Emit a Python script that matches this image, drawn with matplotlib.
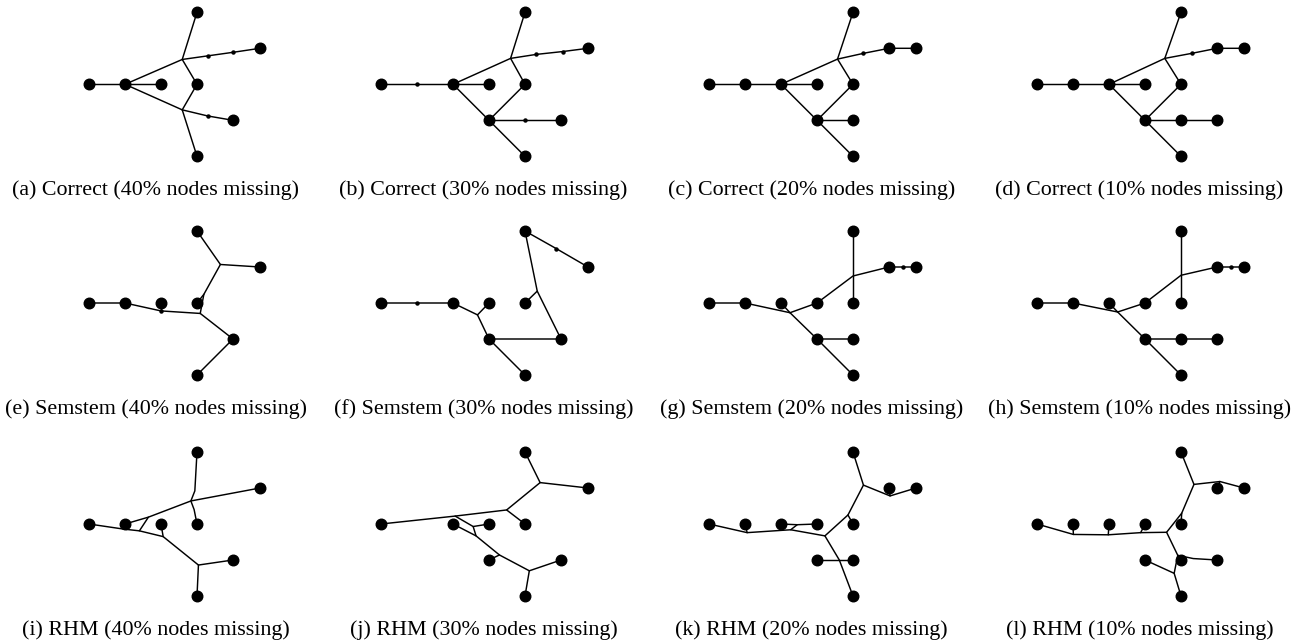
import matplotlib
matplotlib.use("Agg")
import matplotlib.pyplot as plt

# observed (big dot) nodes, grid units (col, row), shared by each column of panels
nodes_40 = [(1, 2), (2, 2), (3, 2), (4, 2), (4, 0), (5.75, 1), (5, 3), (4, 4)]
nodes_30 = [(0, 2), (2, 2), (3, 2), (4, 2), (4, 0), (5.75, 1), (3, 3), (5, 3), (4, 4)]
nodes_20 = [(0, 2), (1, 2), (2, 2), (3, 2), (4, 2), (4, 0), (5, 1), (5.75, 1), (3, 3), (4, 3), (4, 4)]
nodes_10 = [(0, 2), (1, 2), (2, 2), (3, 2), (4, 2), (4, 0), (5, 1), (5.75, 1), (3, 3), (4, 3), (5, 3), (4, 4)]

# edges as polylines
edges_a = [
    [(1, 2), (2, 2), (3, 2)],
    [(2, 2), (3.59, 1.31), (4, 0)],
    [(3.59, 1.31), (4.30, 1.21), (5.01, 1.11), (5.75, 1)],
    [(3.59, 1.31), (4, 2), (3.59, 2.71)],
    [(2, 2), (3.59, 2.71), (4, 4)],
    [(3.59, 2.71), (4.30, 2.88), (5, 3)],
]
ticks_a = [(4.30, 1.21), (5.01, 1.11), (4.30, 2.88)]

edges_b = [
    [(0, 2), (1, 2), (2, 2), (3, 2)],
    [(2, 2), (3.6, 1.28), (4, 0)],
    [(3.6, 1.28), (4.31, 1.17), (5.05, 1.09), (5.75, 1)],
    [(3.6, 1.28), (4, 2), (3, 3)],
    [(2, 2), (3, 3), (4, 4)],
    [(3, 3), (4, 3), (5, 3)],
]
ticks_b = [(1, 2), (4.31, 1.17), (5.05, 1.09), (4, 3)]

edges_c = [
    [(0, 2), (1, 2), (2, 2), (3, 2)],
    [(2, 2), (3.57, 1.3), (4, 0)],
    [(3.57, 1.3), (4.29, 1.14), (5, 1), (5.75, 1)],
    [(3.57, 1.3), (4, 2), (3, 3)],
    [(2, 2), (3, 3), (4, 4)],
    [(3, 3), (4, 3)],
]
ticks_c = [(4.29, 1.14)]

edges_d = [
    [(0, 2), (1, 2), (2, 2), (3, 2)],
    [(2, 2), (3.55, 1.28), (4, 0)],
    [(3.55, 1.28), (4.3, 1.14), (5, 1), (5.75, 1)],
    [(3.55, 1.28), (4, 2), (3, 3)],
    [(2, 2), (3, 3), (4, 4)],
    [(3, 3), (4, 3), (5, 3)],
]
ticks_d = [(4.3, 1.14)]

edges_e = [
    [(1, 2), (2, 2), (3, 2.22), (4.09, 2.29)],
    [(3, 2), (3, 2.22)],
    [(4.09, 2.29), (4.19, 1.76), (4.65, 0.93), (4, 0)],
    [(4, 2), (4.19, 1.76)],
    [(4.65, 0.93), (5.75, 1)],
    [(4.09, 2.29), (5, 3), (4, 4)],
]
ticks_e = [(3, 2.22)]

edges_f = [
    [(0, 2), (1, 2), (2, 2), (2.68, 2.33), (3, 2)],
    [(2.68, 2.33), (3, 3), (5, 3), (4.34, 1.67), (4, 0), (4.87, 0.49), (5.75, 1)],
    [(3, 3), (4, 4)],
    [(4.34, 1.67), (4, 2)],
]
ticks_f = [(1, 2), (4.87, 0.49)]

edges_g = [
    [(0, 2), (1, 2), (2.25, 2.27), (3, 2), (4, 1.25), (5, 1), (5.75, 1)],
    [(2.25, 2.27), (2, 2)],
    [(4, 0), (4, 2)],
    [(2.25, 2.27), (3, 3), (4, 3)],
    [(3, 3), (4, 4)],
]
ticks_g = [(5.4, 1)]

edges_h = [
    [(0, 2), (1, 2), (2.24, 2.25), (3, 2), (4, 1.23), (5, 1), (5.75, 1)],
    [(2.24, 2.25), (2, 2)],
    [(4, 0), (4, 2)],
    [(2.24, 2.25), (3, 3), (4, 3), (5, 3)],
    [(3, 3), (4, 4)],
]
ticks_h = [(5.4, 1)]

edges_i = [
    [(4, 0), (3.94, 1.08), (3.83, 1.36), (3.92, 1.6), (4, 2)],
    [(5.75, 1), (3.83, 1.36), (2.65, 1.81), (2, 2)],
    [(2.65, 1.81), (2.4, 2.19)],
    [(1, 2), (1.95, 2.14), (2.4, 2.19), (3.06, 2.35), (4.04, 3.14), (5, 3)],
    [(3.06, 2.35), (3, 2)],
    [(4.04, 3.14), (4, 4)],
]
ticks_i = []

edges_j = [
    [(0, 2), (2.06, 1.78), (3.49, 1.61), (4.42, 0.85), (4, 0)],
    [(4.42, 0.85), (5.75, 1)],
    [(3.49, 1.61), (4, 2)],
    [(2.06, 1.78), (2.56, 2.07), (3, 2)],
    [(2.56, 2.07), (2.64, 2.33)],
    [(2, 2), (2.64, 2.33), (3.29, 2.86), (4.12, 3.3), (5, 3)],
    [(3.29, 2.86), (3, 3)],
    [(4.12, 3.3), (4, 4)],
]
ticks_j = []

edges_k = [
    [(0, 2), (1.06, 2.24), (2.27, 2.16), (3.22, 2.33), (3.86, 1.75), (4.29, 0.92), (4, 0)],
    [(1.06, 2.24), (1, 2)],
    [(2, 2), (2.45, 2.02), (3, 2)],
    [(2.45, 2.02), (2.27, 2.16)],
    [(3.86, 1.75), (4, 2)],
    [(4.29, 0.92), (5.03, 1.22), (5.75, 1)],
    [(5.03, 1.22), (5, 1)],
    [(3.22, 2.33), (3.62, 3.0), (4, 4)],
    [(3, 3), (4, 3)],
]
ticks_k = []

edges_l = [
    [(0, 2), (1.01, 2.29), (1.98, 2.3), (2.88, 2.24), (3.6, 2.23), (4.02, 1.7), (4.36, 0.9), (4, 0)],
    [(1.01, 2.29), (1, 2)],
    [(1.98, 2.3), (2, 2)],
    [(2.88, 2.24), (3, 2)],
    [(4.02, 1.7), (4, 2)],
    [(4.36, 0.9), (5.08, 0.82), (5.75, 1)],
    [(5.08, 0.82), (5, 1)],
    [(3.6, 2.23), (3.91, 2.87), (4.34, 2.96), (5, 3)],
    [(3.91, 2.87), (4, 3)],
    [(3.91, 2.87), (3.81, 3.37), (3, 3)],
    [(3.81, 3.37), (4, 4)],
]
ticks_l = []

captions = [
    "(a) Correct (40% nodes missing)", "(b) Correct (30% nodes missing)",
    "(c) Correct (20% nodes missing)", "(d) Correct (10% nodes missing)",
    "(e) Semstem (40% nodes missing)", "(f) Semstem (30% nodes missing)",
    "(g) Semstem (20% nodes missing)", "(h) Semstem (10% nodes missing)",
    "(i) RHM (40% nodes missing)", "(j) RHM (30% nodes missing)",
    "(k) RHM (20% nodes missing)", "(l) RHM (10% nodes missing)",
]

node_sets = [nodes_40, nodes_30, nodes_20, nodes_10]
panel_edges = [edges_a, edges_b, edges_c, edges_d,
               edges_e, edges_f, edges_g, edges_h,
               edges_i, edges_j, edges_k, edges_l]
panel_ticks = [ticks_a, ticks_b, ticks_c, ticks_d,
               ticks_e, ticks_f, ticks_g, ticks_h,
               ticks_i, ticks_j, ticks_k, ticks_l]

W, H = 1299, 641
U = 36  # pixels per grid unit
col_x0 = [53, 381, 709, 1037]
row_y0 = [12.3, 231, 452]

fig = plt.figure(figsize=(W / 100, H / 100), dpi=100)

for i in range(12):
    r, c = divmod(i, 4)
    left = (col_x0[c] - 0.5 * U) / W
    bottom = 1 - (row_y0[r] - 0.5 * U + 5 * U) / H
    ax = fig.add_axes([left, bottom, 7 * U / W, 5 * U / H])
    ax.set_xlim(-0.5, 6.5)
    ax.set_ylim(4.5, -0.5)
    ax.axis("off")

    for line in panel_edges[i]:
        xs, ys = zip(*line)
        ax.plot(xs, ys, color="black", lw=1.05, solid_capstyle="round", zorder=1)
    if panel_ticks[i]:
        tx, ty = zip(*panel_ticks[i])
        ax.plot(tx, ty, "o", color="black", ms=2.2, zorder=2)
    nx, ny = zip(*node_sets[c])
    ax.plot(nx, ny, "o", color="black", ms=7.6, zorder=3)

    ax.text(2.85, 4.95, captions[i], ha="center", va="center",
            fontsize=15.8, family="Liberation Serif", clip_on=False)

fig.savefig("out.png", dpi=100, facecolor="white")
